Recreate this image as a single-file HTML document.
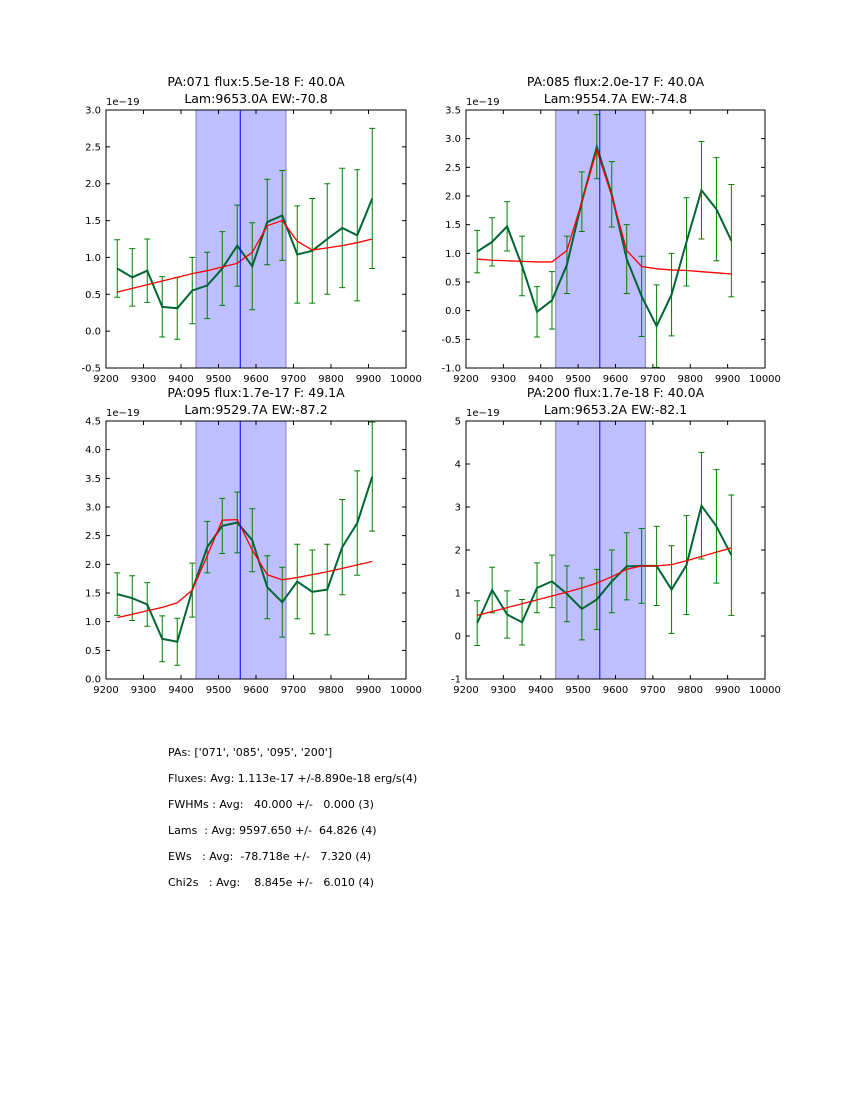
<!DOCTYPE html>
<html><head><meta charset="utf-8"><style>
body{margin:0;background:#fff;width:850px;height:1100px;overflow:hidden;font-family:"DejaVu Sans","Liberation Sans",sans-serif}
svg text{font-family:"DejaVu Sans","Liberation Sans",sans-serif}
#stats{position:absolute;left:168px;top:740px;font-size:11px;line-height:26px;white-space:pre;color:#000}
</style></head><body>
<svg id="fig" width="850" height="1100" style="position:absolute;left:0;top:0"></svg>
<div id="stats"><div>PAs: ['071', '085', '095', '200']</div><div>Fluxes: Avg: 1.113e-17 +/-8.890e-18 erg/s(4)</div><div>FWHMs : Avg:   40.000 +/-   0.000 (3)</div><div>Lams  : Avg: 9597.650 +/-  64.826 (4)</div><div>EWs   : Avg:  -78.718e +/-   7.320 (4)</div><div>Chi2s   : Avg:    8.845e +/-   6.010 (4)</div></div>
<script>
const wavelengths=[9230,9270,9310,9350,9390,9430,9470,9510,9550,9590,9630,9670,9710,9750,9790,9830,9870,9910];
const xTicks=[9200,9300,9400,9500,9600,9700,9800,9900,10000];
const titles=[["PA:071 flux:5.5e-18 F: 40.0A","Lam:9653.0A EW:-70.8"],["PA:085 flux:2.0e-17 F: 40.0A","Lam:9554.7A EW:-74.8"],["PA:095 flux:1.7e-17 F: 49.1A","Lam:9529.7A EW:-87.2"],["PA:200 flux:1.7e-18 F: 40.0A","Lam:9653.2A EW:-82.1"]];
const yTicks1=[-0.5,0,0.5,1,1.5,2,2.5,3];
const yTicks2=[-1,-0.5,0,0.5,1,1.5,2,2.5,3,3.5];
const yTicks3=[0,0.5,1,1.5,2,2.5,3,3.5,4,4.5];
const yTicks4=[-1,0,1,2,3,4,5];
const flux1=[0.85,0.73,0.82,0.33,0.31,0.55,0.62,0.85,1.16,0.88,1.48,1.57,1.04,1.09,1.25,1.40,1.30,1.80];
const err1=[0.39,0.39,0.43,0.41,0.42,0.45,0.45,0.5,0.55,0.59,0.58,0.61,0.66,0.71,0.75,0.81,0.89,0.95];
const model1=[0.53,0.58,0.63,0.68,0.73,0.78,0.82,0.87,0.92,1.07,1.43,1.5,1.22,1.1,1.13,1.16,1.2,1.25];
const flux2=[1.03,1.2,1.47,0.78,-0.02,0.18,0.8,1.9,2.86,2.03,0.9,0.25,-0.27,0.28,1.2,2.1,1.77,1.22];
const err2=[0.37,0.42,0.43,0.52,0.44,0.5,0.5,0.52,0.56,0.57,0.6,0.7,0.72,0.72,0.77,0.85,0.9,0.98];
const model2=[0.9,0.88,0.87,0.86,0.85,0.85,1.05,1.9,2.8,2.0,1.05,0.77,0.73,0.71,0.70,0.68,0.66,0.64];
const flux3=[1.48,1.41,1.3,0.7,0.65,1.55,2.3,2.67,2.73,2.42,1.6,1.34,1.7,1.52,1.56,2.3,2.72,3.53];
const err3=[0.37,0.39,0.38,0.4,0.41,0.47,0.45,0.48,0.53,0.55,0.55,0.61,0.65,0.73,0.79,0.83,0.91,0.95];
const model3=[1.07,1.13,1.19,1.25,1.33,1.55,2.15,2.77,2.78,2.25,1.82,1.73,1.77,1.82,1.87,1.93,1.99,2.05];
const flux4=[0.3,1.07,0.5,0.32,1.12,1.27,0.98,0.63,0.85,1.27,1.62,1.63,1.63,1.08,1.65,3.03,2.55,1.88];
const err4=[0.52,0.53,0.55,0.53,0.58,0.61,0.65,0.72,0.7,0.73,0.78,0.87,0.92,1.02,1.15,1.24,1.32,1.4];
const model4=[0.48,0.57,0.66,0.75,0.84,0.93,1.02,1.12,1.23,1.38,1.55,1.63,1.63,1.66,1.75,1.85,1.95,2.05];
const windowLo=[9440,9440,9440,9440], windowHi=[9680,9680,9680,9680], lineCenter=[9558,9558,9558,9558];
const panels=[
 {x:106,y:110,w:300,h:258,yt:yTicks1,f:flux1,e:err1,m:model1},
 {x:466,y:110,w:299,h:258,yt:yTicks2,f:flux2,e:err2,m:model2},
 {x:106,y:421,w:300,h:258,yt:yTicks3,f:flux3,e:err3,m:model3},
 {x:466,y:421,w:299,h:258,yt:yTicks4,f:flux4,e:err4,m:model4}];
const NS="http://www.w3.org/2000/svg", svg=document.getElementById('fig');
function mk(tag,at,par){const el=document.createElementNS(NS,tag);for(const k in at)el.setAttribute(k,at[k]);(par||svg).appendChild(el);return el;}
panels.forEach((p,i)=>{
 const g=mk('g',{});
 
 
 const y0=p.yt[0],y1=p.yt[p.yt.length-1];
 const X=v=>p.x+(v-9200)/800*p.w, Y=v=>p.y+p.h-(v-y0)/(y1-y0)*p.h;
 const sh=mk('rect',{x:X(windowLo[i]),y:p.y,width:X(windowHi[i])-X(windowLo[i]),height:p.h,fill:'#bfbfff',stroke:'#7f7fbf','stroke-width':1},g);
 
 
 wavelengths.forEach((w,j)=>{
  const x=X(w),a=Y(p.f[j]+p.e[j]),b=Y(p.f[j]-p.e[j]);
  const eb=mk('path',{d:`M${x},${a}V${b}M${x-3},${a}H${x+3}M${x-3},${b}H${x+3}`,stroke:'#008000','stroke-width':1,fill:'none'},g);
  
  
 });
 const dl=mk('polyline',{points:wavelengths.map((w,j)=>X(w)+','+Y(p.f[j])).join(' '),stroke:'#006633','stroke-width':2,fill:'none'},g);
 
 
 const ml=mk('polyline',{points:wavelengths.map((w,j)=>X(w)+','+Y(p.m[j])).join(' '),stroke:'#ff0000','stroke-width':1.3,fill:'none'},g);
 
 
 const cl=mk('line',{x1:X(lineCenter[i]),x2:X(lineCenter[i]),y1:p.y,y2:p.y+p.h,stroke:'#0000ff','stroke-width':1},g);
 
 
 const fr=mk('rect',{x:p.x,y:p.y,width:p.w,height:p.h,fill:'none',stroke:'#000','stroke-width':1},g);
 
 
 xTicks.forEach(t=>{const x=X(t);
  mk('path',{d:`M${x},${p.y+p.h}v-4M${x},${p.y}v4`,stroke:'#000'},g);
  const tx=mk('text',{x:x,y:p.y+p.h+14,'font-size':10,'text-anchor':'middle'},g);tx.textContent=t;
  
  });
 p.yt.forEach(t=>{const y=Y(t);
  mk('path',{d:`M${p.x},${y}h4M${p.x+p.w},${y}h-4`,stroke:'#000'},g);
  const tx=mk('text',{x:p.x-5,y:y+3.5,'font-size':10,'text-anchor':'end'},g);tx.textContent=t.toFixed(i==3?0:1);
  
  });
 const off=mk('text',{x:p.x,y:p.y-5,'font-size':10},g);off.textContent='1e\u221219';
 
 
 titles[i].forEach((s,k)=>{const t=mk('text',{x:p.x+p.w/2,y:p.y-24+k*17,'font-size':12.5,'text-anchor':'middle'},g);t.textContent=s;
  
  });
});
</script>
</body></html>
